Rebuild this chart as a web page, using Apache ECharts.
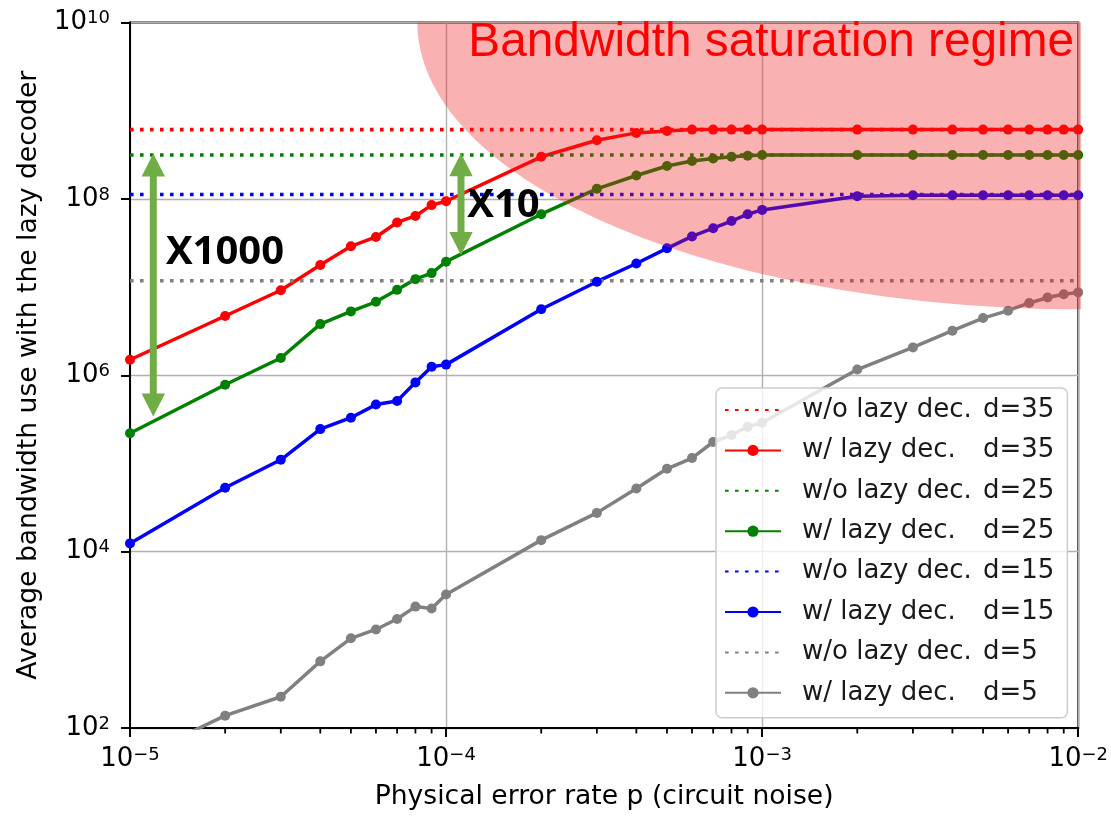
<!DOCTYPE html>
<html>
<head>
<meta charset="utf-8">
<script src="https://cdn.jsdelivr.net/npm/echarts@6/dist/echarts.min.js"></script>
<style>
html, body { margin: 0; padding: 0; background: #ffffff; }
#chart { width: 1111px; height: 816px; }
</style>
</head>
<body>
<div id="chart"></div>
<script>
// ---------------- data ----------------
const errorRates = [1e-5, 2e-5, 3e-5, 4e-5, 5e-5, 6e-5, 7e-5, 8e-5, 9e-5,
                    1e-4, 2e-4, 3e-4, 4e-4, 5e-4, 6e-4, 7e-4, 8e-4, 9e-4,
                    1e-3, 2e-3, 3e-3, 4e-3, 5e-3, 6e-3, 7e-3, 8e-3, 9e-3, 1e-2];

const lazyD35 = [1.5e6, 4.7e6, 9.2e6, 1.78e7, 2.9e7, 3.7e7, 5.4e7, 6.4e7, 8.5e7,
                 9.4e7, 3.0e8, 4.62e8, 5.6e8, 5.9e8, 6.1e8, 6.1e8, 6.1e8, 6.1e8,
                 6.1e8, 6.1e8, 6.1e8, 6.1e8, 6.1e8, 6.1e8, 6.1e8, 6.1e8, 6.1e8, 6.1e8];
const lazyD25 = [2.2e5, 7.8e5, 1.57e6, 3.8e6, 5.3e6, 6.8e6, 9.3e6, 1.23e7, 1.44e7,
                 1.94e7, 6.7e7, 1.3e8, 1.84e8, 2.36e8, 2.69e8, 2.87e8, 3.0e8, 3.08e8,
                 3.15e8, 3.15e8, 3.15e8, 3.15e8, 3.15e8, 3.15e8, 3.15e8, 3.15e8, 3.15e8, 3.15e8];
const lazyD15 = [1.24e4, 5.3e4, 1.1e5, 2.45e5, 3.3e5, 4.65e5, 5.1e5, 8.3e5, 1.25e6,
                 1.32e6, 5.6e6, 1.15e7, 1.85e7, 2.75e7, 3.75e7, 4.65e7, 5.6e7, 6.7e7,
                 7.5e7, 1.07e8, 1.1e8, 1.1e8, 1.1e8, 1.1e8, 1.1e8, 1.1e8, 1.1e8, 1.1e8];
const lazyD5  = [42, 138, 226, 570, 1040, 1310, 1720, 2380, 2270,
                 3270, 1.35e4, 2.75e4, 5.2e4, 8.7e4, 1.15e5, 1.75e5, 2.1e5, 2.6e5,
                 2.9e5, 1.16e6, 2.07e6, 3.2e6, 4.45e6, 5.4e6, 6.6e6, 7.6e6, 8.3e6, 8.7e6];

const noLazyLevels = [6.1e8, 3.15e8, 1.12e8, 1.18e7];   // d=35, 25, 15, 5
const distances = ['35', '25', '15', '5'];
const lazyLabel = 'w/ lazy dec.   d=';
const noLazyLabel = 'w/o lazy dec. d=';

const xTickExponents = [-5, -4, -3, -2];
const yTickExponents = [2, 4, 6, 8, 10];
const xMinorTicks = [2e-5, 3e-5, 4e-5, 5e-5, 6e-5, 7e-5, 8e-5, 9e-5,
                     2e-4, 3e-4, 4e-4, 5e-4, 6e-4, 7e-4, 8e-4, 9e-4,
                     2e-3, 3e-3, 4e-3, 5e-3, 6e-3, 7e-3, 8e-3, 9e-3];

// annotation anchors (data coordinates)
const saturationRegion = [1.0214e-2, 1e10, 8.116e-5, 5.595e6]; // centre p, centre value, left p, bottom value
const arrowsData = [[1.185e-5, 3.28e8, 3.41e5], [1.115e-4, 3.3e8, 2.31e7]];
const annotationTexts = ['X1000', 'X10', 'Bandwidth saturation regime'];
const annotationAnchors = [[1.299e-5, 2.48e7], [1.167e-4, 8.46e7], [1.176e-4, 5.85e9]];

// ---------------- styles ----------------
const colors = ['#ff0000', '#008000', '#0000ff', '#808080'];
const lazySeriesValues = [lazyD35, lazyD25, lazyD15, lazyD5];
const FONT = 'DejaVu Sans';

const series = [];
const legendData = [];
distances.forEach(function (d, i) {
  const dottedName = noLazyLabel + d;
  const solidName = lazyLabel + d;
  series.push({
    name: dottedName,
    type: 'line',
    data: [[errorRates[0], noLazyLevels[i]], [errorRates[errorRates.length - 1], noLazyLevels[i]]],
    symbol: 'none',
    lineStyle: { color: colors[i], width: 3.6, type: [3.6, 6.4] },
    itemStyle: { color: colors[i] },
    z: 2,
    silent: true
  });
  series.push({
    name: solidName,
    type: 'line',
    data: errorRates.map(function (p, j) { return [p, lazySeriesValues[i][j]]; }),
    symbol: 'circle',
    symbolSize: 10,
    showSymbol: true,
    lineStyle: { color: colors[i], width: 3.5 },
    itemStyle: { color: colors[i] },
    z: 2,
    silent: true
  });
  legendData.push({ name: dottedName, itemStyle: { opacity: 0 } });
  legendData.push({ name: solidName });
});

// x-axis minor ticks (log positions), drawn just below the bottom axis line
series.push({
  type: 'custom',
  name: 'minorTicks',
  z: 7,
  clip: false,
  silent: true,
  data: xMinorTicks.map(function (v) { return [v, 1e3]; }),
  renderItem: function (params, api) {
    const p = api.coord([api.value(0), 1e2]);
    return {
      type: 'rect',
      shape: { x: p[0] - 0.9, y: p[1], width: 1.8, height: 5.5 },
      style: { fill: '#000000' },
      z2: 100
    };
  }
});

// saturation region overlay
series.push({
  type: 'custom',
  name: 'saturation',
  z: 3,
  clip: false,
  silent: true,
  data: [saturationRegion],
  renderItem: function (params, api) {
    const c = api.coord([api.value(0), api.value(1)]);
    const l = api.coord([api.value(2), api.value(1)]);
    const b = api.coord([api.value(0), api.value(3)]);
    const rx = c[0] - l[0];
    const ry = b[1] - c[1];
    const pts = [];
    for (let k = 0; k <= 120; k++) {
      const t = k / 120 * Math.PI / 2;
      pts.push([c[0] - rx * Math.cos(t), c[1] + ry * Math.sin(t)]);
    }
    pts.push([c[0], c[1]]);
    return { type: 'polygon', shape: { points: pts }, style: { fill: 'rgba(241,28,28,0.345)' } };
  }
});

// green double arrows
series.push({
  type: 'custom',
  name: 'arrows',
  z: 5,
  clip: false,
  silent: true,
  data: arrowsData,
  renderItem: function (params, api) {
    const top = api.coord([api.value(0), api.value(1)]);
    const bot = api.coord([api.value(0), api.value(2)]);
    const hw = 11.7, hh = 23, sw = 7, col = '#70ad47';
    return {
      type: 'group',
      children: [
        { type: 'rect', shape: { x: top[0] - sw / 2, y: top[1] + hh - 1, width: sw, height: bot[1] - top[1] - 2 * hh + 2 }, style: { fill: col } },
        { type: 'polygon', shape: { points: [[top[0], top[1]], [top[0] - hw, top[1] + hh], [top[0] + hw, top[1] + hh]] }, style: { fill: col } },
        { type: 'polygon', shape: { points: [[bot[0], bot[1]], [bot[0] - hw, bot[1] - hh], [bot[0] + hw, bot[1] - hh]] }, style: { fill: col } }
      ]
    };
  }
});

// text annotations
series.push({
  type: 'custom',
  name: 'annotations',
  z: 6,
  clip: false,
  silent: true,
  data: annotationAnchors,
  renderItem: function (params, api) {
    const p = api.coord([api.value(0), api.value(1)]);
    const i = params.dataIndex;
    const isTitle = i === 2;
    return {
      type: 'text',
      x: p[0],
      y: p[1],
      style: {
        text: annotationTexts[i],
        fill: isTitle ? '#ff0000' : '#000000',
        fontFamily: isTitle ? 'Liberation Sans' : 'Open Sans',
        fontWeight: isTitle ? 'normal' : 'bold',
        fontSize: isTitle ? 47.8 : 40,
        align: 'left',
        verticalAlign: 'middle'
      }
    };
  }
});

function powLabel(value, list) {
  const e = Math.round(Math.log10(value));
  if (list.indexOf(e) < 0) return '';
  const s = e < 0 ? '\u2212' + (-e) : String(e);
  return '{b|10}{s|' + s + '}';
}

const labelRich = {
  b: { fontFamily: FONT, fontSize: 26, color: '#000', lineHeight: 26 },
  s: { fontFamily: FONT, fontSize: 18, color: '#000', lineHeight: 12, verticalAlign: 'top' }
};

const option = {
  animation: false,
  backgroundColor: '#ffffff',
  grid: {
    left: 130, right: 31, top: 22.5, bottom: 85.3,
    show: true, borderColor: '#000', borderWidth: 2, backgroundColor: 'transparent',
    containLabel: false
  },
  xAxis: {
    type: 'log', logBase: 10, min: 1e-5, max: 1e-2,
    name: 'Physical error rate p (circuit noise)',
    nameLocation: 'middle', nameGap: 56,
    nameTextStyle: { fontFamily: FONT, fontSize: 26.6, color: '#000' },
    axisLine: { show: true, lineStyle: { color: '#000', width: 2 } },
    axisTick: { show: true, inside: false, length: 9, lineStyle: { color: '#000', width: 2 } },
    minorTick: { show: false },
    axisLabel: { margin: 18, formatter: function (v) { return powLabel(v, xTickExponents); }, rich: labelRich },
    splitLine: { show: true, lineStyle: { color: '#b0b0b0', width: 1.4 } },
    minorSplitLine: { show: false }
  },
  yAxis: {
    type: 'log', logBase: 10, min: 1e2, max: 1e10, interval: 2,
    name: 'Average bandwidth use with the lazy decoder',
    nameLocation: 'middle', nameGap: 87,
    nameTextStyle: { fontFamily: FONT, fontSize: 26.6, color: '#000' },
    axisLine: { show: true, lineStyle: { color: '#000', width: 2 } },
    axisTick: { show: true, inside: false, length: 9, lineStyle: { color: '#000', width: 2 } },
    axisLabel: { margin: 20, formatter: function (v) { return powLabel(v, yTickExponents); }, rich: labelRich },
    splitLine: { show: true, lineStyle: { color: '#b0b0b0', width: 1.4 } }
  },
  legend: {
    data: legendData,
    orient: 'vertical',
    left: 716, top: 388,
    padding: [7, 13, 10, 8],
    itemWidth: 56, itemHeight: 14, itemGap: 10.4,
    backgroundColor: 'rgba(255,255,255,0.8)',
    borderColor: '#cccccc', borderWidth: 1.5, borderRadius: 6,
    selectedMode: false,
    formatter: function (name) {
      const k = name.indexOf('d=');
      return '{a|' + name.slice(0, k).trim() + '}{b|' + name.slice(k) + '}';
    },
    textStyle: {
      fontFamily: FONT, fontSize: 26, color: '#1a1a1a', lineHeight: 30,
      rich: {
        a: { fontFamily: FONT, fontSize: 26, color: '#1a1a1a', lineHeight: 30, width: 181, padding: [0, 0, 0, 16] },
        b: { fontFamily: FONT, fontSize: 26, color: '#1a1a1a', lineHeight: 30 }
      }
    }
  },
  series: series
};

const chart = echarts.init(document.getElementById('chart'), null, { renderer: 'canvas' });
chart.setOption(option);
</script>
</body>
</html>
